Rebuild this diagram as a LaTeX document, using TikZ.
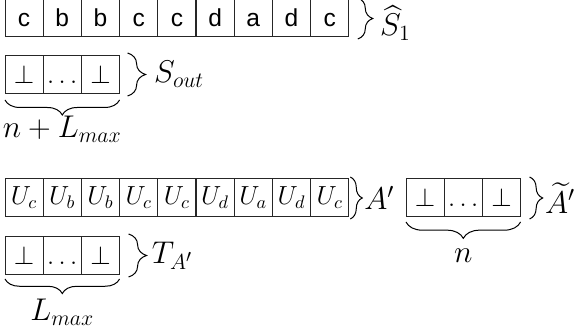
\documentclass[tikz,border=0pt]{standalone}
\usepackage{amsmath,amssymb}
\usepackage{fontspec}
\newfontfamily\cellsans{Liberation Sans}
\usetikzlibrary{positioning,calc,decorations.pathreplacing}

\begin{document}
\begin{tikzpicture}[
    x=0.55pt, y=-0.55pt,
    cell/.style={rectangle, draw=black!85, line width=0.55pt, minimum width=21pt, minimum height=20.9pt, inner sep=0pt, outer sep=0pt, anchor=north west},
    letter/.style={cell, font=\cellsans\fontsize{13.5}{16}\selectfont, text height=9.9pt, text depth=0pt},
    ucell/.style={cell, font=\Large, text height=9.8pt, text depth=2.6pt},
    bot/.style={cell, font=\Large, text height=9.6pt, text depth=0pt},
    curly/.style={decorate, decoration={brace, amplitude=#1}, line width=0.55pt},
    lbl/.style={font=\LARGE, inner sep=0pt}
]
    \useasboundingbox (0,0) rectangle (576,329);

    % Input string
    \foreach \ch [count=\i] in {c,b,b,c,c,d,a,d,c}
        \node[letter] (s\i) at ({5+38.2*(\i-1)}, -1) {\ch};
    \draw[curly=8.25pt] ($(s9.north east)+(9,-1)$) -- ($(s9.south east)+(9,2)$)
        node[lbl, midway, right=12pt, yshift=-2.5pt] (shat) {$\widehat{S}_1$};

    % Output buffer
    \foreach \sym [count=\i] in {\perp,\ldots,\perp}
        \node[bot] (o\i) at ({5+38.2*(\i-1)}, 56) {$\sym$};
    \draw[curly=9.9pt] ($(o3.north east)+(8,-3)$) -- ($(o3.south east)+(8,2)$)
        node[lbl, midway, right=14.3pt] (sout) {$S_{out}$};
    \draw[curly=8.25pt] ($(o3.south east)+(0,6)$) -- ($(o1.south west)+(0,6)$)
        node[lbl, midway, below=8.5pt] (nlm) {$n+L_{max}$};

    % Mapped array
    \foreach \u [count=\i] in {c,b,b,c,c,d,a,d,c}
        \node[ucell] (u\i) at ({5+38.2*(\i-1)}, 179) {$U_\u$};
    \draw[curly=6.6pt] ($(u9.north east)+(1.5,-2)$) -- ($(u9.south east)+(1.5,2)$)
        node[lbl, midway, right=7.5pt] (aprime) {$A'$};

    % Padding
    \foreach \sym [count=\i] in {\perp,\ldots,\perp}
        \node[bot] (p\i) at ({406+38.2*(\i-1)}, 179) {$\sym$};
    \draw[curly=7.2pt] ($(p3.north east)+(9,-2)$) -- ($(p3.south east)+(9,2)$)
        node[lbl, midway, right=8.3pt] (atilde) {$\widetilde{A}'$};
    \draw[curly=9pt] ($(p3.south east)+(0,5)$) -- ($(p1.south west)+(0,5)$)
        node[lbl, midway, below=14.3pt] (nlen) {$n$};

    % Temporary buffer
    \foreach \sym [count=\i] in {\perp,\ldots,\perp}
        \node[bot] (t\i) at ({5+38.2*(\i-1)}, 237) {$\sym$};
    \draw[curly=9.9pt] ($(t3.north east)+(9,-3)$) -- ($(t3.south east)+(9,2)$)
        node[lbl, midway, right=12.6pt] (ta) {$T_{A'}$};
    \draw[curly=8pt] ($(t3.south east)+(0,4)$) -- ($(t1.south west)+(0,4)$)
        node[lbl, midway, below=11pt] (lmax) {$L_{max}$};
\end{tikzpicture}
\end{document}
